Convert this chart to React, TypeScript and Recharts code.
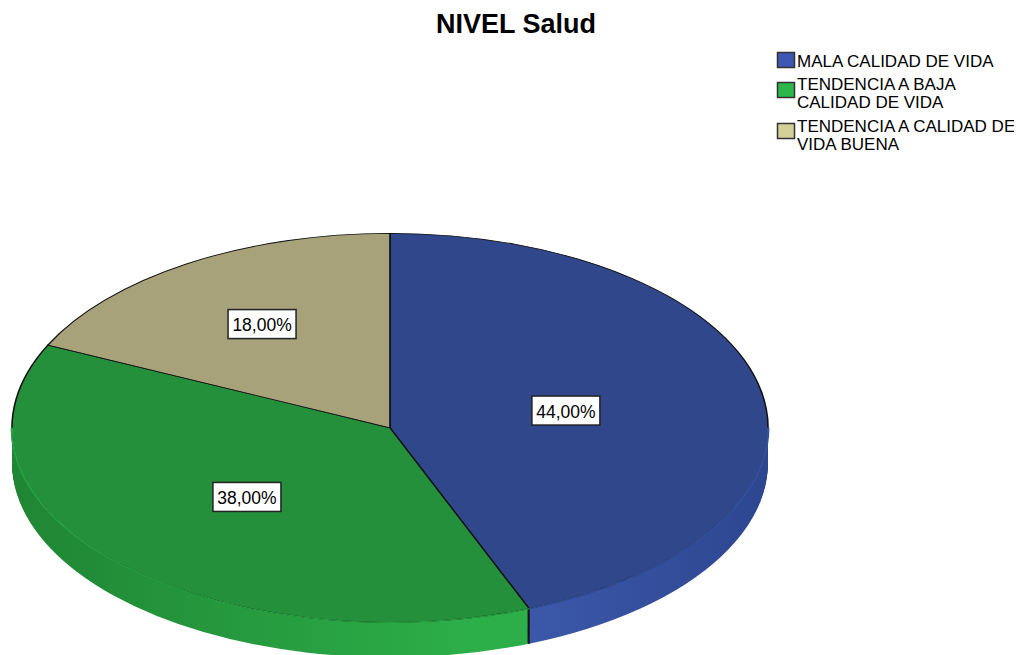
import React from 'react';
import { PieChart, Pie, Cell } from 'recharts';

const title = 'NIVEL Salud';
const categories = ['MALA CALIDAD DE VIDA', 'TENDENCIA A BAJA CALIDAD DE VIDA', 'TENDENCIA A CALIDAD DE VIDA BUENA'];
const legendLines = [['MALA CALIDAD DE VIDA'], ['TENDENCIA A BAJA', 'CALIDAD DE VIDA'], ['TENDENCIA A CALIDAD DE', 'VIDA BUENA']];
const values = [44, 38, 18];
const topColors = ['#30478b', '#25903b', '#a8a27a'];
const legendColors = ['#3d57b2', '#2db74a', '#d5cf98'];
const sideFrom = ['#3b57a8', '#1f8534', '#8f8a66'];
const sideTo = ['#2d4690', '#2cae48', '#a8a27a'];
const rimColors = ['#34509a', '#289f42', '#a09a72'];

const data = categories.map((name, i) => ({ name, value: values[i] }));

const SCALE = 194.5 / 378;
const CX = 382;
const CY = 400;
const R = 378;
const DEPTH = 68;
const offsets = Array.from({ length: 34 }, (_, i) => DEPTH - i * 2);

const total = values.reduce((a, b) => a + b, 0);
const bounds: number[] = [90];
values.forEach((v) => bounds.push(bounds[bounds.length - 1] - (360 * v) / total));

// parts of each slice lying on the lower (front) half of the rim, 0 .. -180 degrees
const rimData = values
  .map((_, i) => {
    const a = Math.min(bounds[i], 0);
    const b = Math.max(bounds[i + 1], -180);
    return { idx: i, value: a - b };
  })
  .filter((d) => d.value > 0);

// slice boundaries that fall on the visible front side
const frontEdges = bounds.slice(1, -1).filter((a) => a < 0 && a > -180);

const fmt = (v: number) => v.toFixed(2).replace('.', ',') + '%';

const renderLabel = (props: any) => {
  const { cx, cy, midAngle, outerRadius, percent, value } = props;
  const half = percent * Math.PI;
  const r = ((2 / 3) * outerRadius * Math.sin(half)) / half;
  const rad = (midAngle * Math.PI) / 180;
  const x = cx + r * Math.cos(rad);
  const y = cy - r * Math.sin(rad);
  return (
    <g transform={`translate(${x},${y}) scale(1,${1 / SCALE})`}>
      <rect x={-34} y={-14.5} width={68} height={29} fill="#ffffff" stroke="#222" strokeWidth={1.5} />
      <text x={0} y={1} textAnchor="middle" dominantBaseline="central" fontFamily="'Liberation Sans', Arial, sans-serif" fontSize={17.5} fill="#000">
        {fmt(value)}
      </text>
    </g>
  );
};

export default function App() {
  const legendTop = [44, 74, 115];
  const baselines = [[59], [82, 100], [124, 142]];
  return (
    <div style={{ position: 'relative', width: 1014, height: 647, overflow: 'hidden', background: '#fff' }}>
      <div style={{ position: 'absolute', left: 0, top: CY * (1 - SCALE) + 19.5, width: 1014, height: 860, transform: `scaleY(${SCALE})`, transformOrigin: '0 0' }}>
        <PieChart width={1014} height={860} margin={{ top: 0, right: 0, bottom: 0, left: 0 }}>
          <defs>
            {topColors.map((_, i) => (
              <linearGradient key={i} id={`side-${i}`} gradientUnits="userSpaceOnUse" x1={0} y1={0} x2={760} y2={0}>
                <stop offset="0%" stopColor={sideFrom[i]} />
                <stop offset={i === 0 ? '70%' : '60%'} stopColor={i === 0 ? sideFrom[0] : sideTo[i]} />
                <stop offset="100%" stopColor={sideTo[i]} />
              </linearGradient>
            ))}
          </defs>
          {offsets.map((off) => (
            <Pie
              key={`side-${off}`}
              data={data}
              dataKey="value"
              cx={CX}
              cy={CY + off}
              outerRadius={R}
              startAngle={90}
              endAngle={-270}
              stroke="none"
              isAnimationActive={false}
              labelLine={false}
            >
              {data.map((_, i) => (
                <Cell key={i} fill={`url(#side-${i})`} stroke="none" />
              ))}
            </Pie>
          ))}
          {frontEdges.map((a) =>
            offsets.map((off) => (
              <Pie
                key={`edge-${a}-${off}`}
                data={[{ value: 1 }]}
                dataKey="value"
                cx={CX}
                cy={CY + off}
                innerRadius={R - 3}
                outerRadius={R}
                startAngle={a + 0.14}
                endAngle={a - 0.14}
                stroke="none"
                fill="#111"
                isAnimationActive={false}
                labelLine={false}
              />
            ))
          )}
          <Pie
            data={data}
            dataKey="value"
            cx={CX}
            cy={CY}
            outerRadius={R}
            startAngle={90}
            endAngle={-270}
            stroke="#111"
            strokeWidth={1.6}
            isAnimationActive={false}
            labelLine={false}
            label={renderLabel}
          >
            {data.map((_, i) => (
              <Cell key={i} fill={topColors[i]} stroke="#111" strokeWidth={1.6} />
            ))}
          </Pie>
          <Pie
            data={rimData}
            dataKey="value"
            cx={CX}
            cy={CY}
            innerRadius={R - 1}
            outerRadius={R + 1.4}
            startAngle={0}
            endAngle={-180}
            stroke="none"
            isAnimationActive={false}
            labelLine={false}
          >
            {rimData.map((d) => (
              <Cell key={d.idx} fill={rimColors[d.idx]} stroke="none" />
            ))}
          </Pie>
        </PieChart>
      </div>
      <svg width={1014} height={170} style={{ position: 'absolute', left: 0, top: 0, pointerEvents: 'none' }}>
        <text x={508} y={25} textAnchor="middle" fontFamily="'Liberation Sans', Arial, sans-serif" fontWeight="bold" fontSize={27} fill="#000">
          {title}
        </text>
        {legendLines.map((lines, i) => (
          <g key={i}>
            <rect x={769.5} y={legendTop[i] + 0.5} width={17} height={15} fill={legendColors[i]} stroke="#333" strokeWidth={1.5} />
            {lines.map((ln, j) => (
              <text key={j} x={789} y={baselines[i][j]} fontFamily="'Liberation Sans', Arial, sans-serif" fontSize={17} fill="#000">
                {ln}
              </text>
            ))}
          </g>
        ))}
      </svg>
    </div>
  );
}
